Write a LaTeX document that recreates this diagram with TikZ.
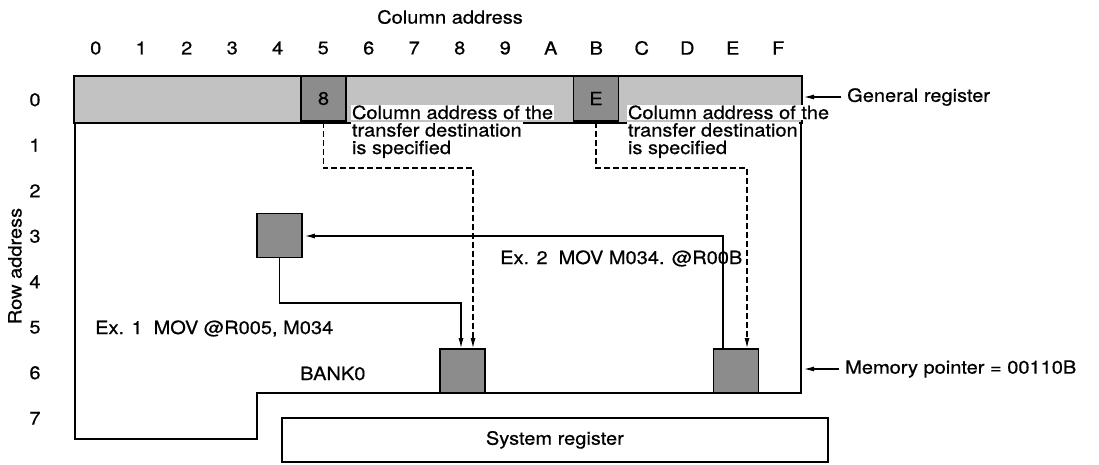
\documentclass[tikz,border=0pt]{standalone}
\usepackage{fontspec}
\setmainfont[FakeStretch=1.1,FakeBold=0.6]{TeX Gyre Heros}
\usetikzlibrary{arrows.meta}
\begin{document}
\begin{tikzpicture}[x=1pt,y=-1pt,
  txt/.style={font=\fontsize{18.2}{19}\selectfont, inner sep=0pt},
  darkbox/.style={draw, line width=1.8pt, fill=black!45, minimum width=45pt, minimum height=45pt, inner sep=0pt, font=\fontsize{18.2}{19}\selectfont},
  outline/.style={line width=2pt},
  conn/.style={line width=1.1pt},
  dashconn/.style={line width=1.1pt, dash pattern=on 6pt off 3pt},
  tip/.style={-{Latex[length=10pt,width=5pt]}},
  note/.style={txt, fill=white, inner sep=0.8pt, anchor=base west},
]
\useasboundingbox (0,0) rectangle (1099,464);

% general register bar
\node[draw, fill=black!24, line width=2pt, minimum width=728pt, minimum height=47pt, anchor=north west, inner sep=0pt] (bar) at (73,75) {};

% BANK0 outline
\draw[outline] (75,122) -- (75,439) -- (257,439) -- (257,393) -- (801,393) -- (801,122);

% system register
\node[draw, line width=1.8pt, minimum width=546pt, minimum height=44pt, anchor=north west, txt, inner sep=0pt] (sys) at (281,417) {System register};

% titles and address labels
\node[txt] (title) at (450,17) {Column address};
\foreach \c [count=\i from 0] in {0,1,2,3,4,5,6,7,8,9,A,B,C,D,E,F}
  \node[txt] (col\c) at ({73+45.5*(\i+0.5)},48) {\c};
\foreach \r in {0,...,7}
  \node[txt] (row\r) at (35,{75+45.5*(\r+0.5)+2}) {\r};
\node[txt, rotate=90] (rowaddr) at (15,266) {Row address};

% memory cells
\node[darkbox] (b8) at (323.5,98.5) {8};
\node[darkbox] (bE) at (596,98.5) {E};
\node[darkbox, minimum height=44pt] (src) at (279.5,235.5) {};
\node[darkbox, minimum height=44pt] (d1) at (462.5,371) {};
\node[darkbox, minimum height=44pt] (d2) at (736,371) {};

% notes
\node[note] (n1a) at (351,119) {Column address of the};
\node[note] (n1b) at (351,136.5) {transfer destination};
\node[note] (n1c) at (351,154) {is specified};
\node[note] (n2a) at (627,119) {Column address of the};
\node[note] (n2b) at (627,136.5) {transfer destination};
\node[note] (n2c) at (627,154) {is specified};

% example labels
\node[txt, anchor=base west] (ex1) at (95,334) {Ex. 1\hspace{0.6em}MOV @R005, M034};
\node[txt, anchor=base west] (ex2) at (500,264) {Ex. 2\hspace{0.6em}MOV M034. @R00B};
\node[txt, anchor=base west] (bank) at (300,380) {BANK0};

% side labels
\node[txt, anchor=west] (gr) at (847,97) {General register};
\node[txt, anchor=west] (mp) at (845,369) {Memory pointer = 00110B};
\coordinate (redge) at (801,393);
\draw[conn, tip, shorten >=1pt] ([xshift=-6pt]gr.west) -- (bar.east |- gr.west);
\draw[conn, tip, shorten >=3pt] ([xshift=-6pt]mp.west) -- (redge |- mp.west);

% connectors
\coordinate (e1) at (461,303);
\coordinate (e2) at (723,236);
\coordinate (k1) at (473,168);
\coordinate (k2) at (747,168);
\draw[conn, tip] (src.south) |- (e1) -- (e1 |- d1.north);
\draw[conn, tip, shorten >=2pt] (e2 |- d2.north) -- (e2) -- (src.east |- e2);
\draw[dashconn, tip] (b8.south) |- (k1) -- (k1 |- d1.north);
\draw[dashconn, tip] (bE.south) |- (k2) -- (k2 |- d2.north);
\end{tikzpicture}
\end{document}
